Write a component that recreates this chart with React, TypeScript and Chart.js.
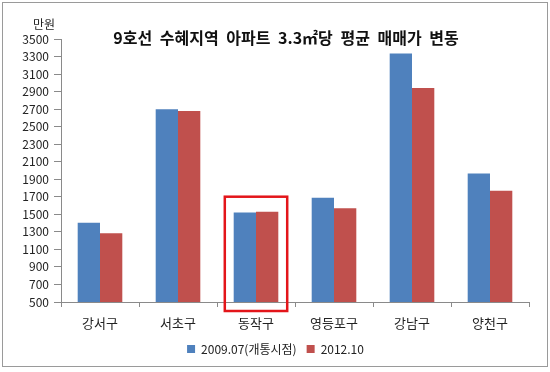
import React, { useEffect, useRef } from "react";
import { Chart, registerables } from "chart.js";

Chart.register(...registerables);

const categories = ["강서구", "서초구", "동작구", "영등포구", "강남구", "양천구"];
const series2009 = [1405, 2700, 1520, 1690, 3335, 1965];
const series2012 = [1285, 2680, 1530, 1570, 2940, 1770];
const seriesLabels = ["2009.07(개통시점)", "2012.10"];
const yMin = 500;
const yMax = 3500;
const yStep = 200;
const highlightIndex = 2;
const titleText = "9호선 수혜지역 아파트 3.3㎡당 평균 매매가 변동";
const unitText = "만원";

const FONT = '"Noto Sans CJK KR", "Noto Sans", sans-serif';

const highlightPlugin = {
  id: "highlightBox",
  afterDatasetsDraw(chart: any) {
    const x = chart.scales.x;
    const y = chart.scales.y;
    const cx = x.getPixelForValue(highlightIndex);
    const half = (x.getPixelForValue(1) - x.getPixelForValue(0)) * 0.4;
    const top = y.getPixelForValue(Math.max(series2009[highlightIndex], series2012[highlightIndex])) - 15;
    const bottom = y.getPixelForValue(yMin) + 9;
    const ctx = chart.ctx;
    ctx.save();
    ctx.strokeStyle = "#e3151a";
    ctx.lineWidth = 2.5;
    ctx.strokeRect(cx - half, top, half * 2, bottom - top);
    ctx.restore();
  },
};

export default function App() {
  const ref = useRef<HTMLCanvasElement | null>(null);
  useEffect(() => {
    if (!ref.current) return;
    const chart = new Chart(ref.current, {
      type: "bar",
      data: {
        labels: categories,
        datasets: [
          { label: seriesLabels[0], data: series2009, backgroundColor: "#4f81bd", borderWidth: 0 },
          { label: seriesLabels[1], data: series2012, backgroundColor: "#c0504d", borderWidth: 0 },
        ],
      },
      options: {
        responsive: false,
        animation: false,
        devicePixelRatio: 1,
        layout: { padding: { left: 22, right: 21, top: 39, bottom: 7 } },
        datasets: { bar: { barPercentage: 1, categoryPercentage: 0.572 } },
        plugins: {
          legend: {
            position: "bottom",
            labels: {
              boxWidth: 8,
              boxHeight: 8,
              padding: 10,
              color: "#222",
              font: { family: FONT, size: 12 },
            },
          },
          tooltip: { enabled: false },
          title: { display: false },
        },
        scales: {
          x: {
            afterFit: (s: any) => { s.height = 31; },
            grid: { display: true, drawOnChartArea: false, drawTicks: true, tickLength: 5, offset: true, color: "#8a8a8a" },
            border: { display: true, color: "#8a8a8a" },
            ticks: { color: "#222", padding: 8, font: { family: FONT, size: 13 } },
          },
          y: {
            min: yMin,
            max: yMax,
            afterFit: (s: any) => { s.width = 39; },
            grid: { display: true, drawOnChartArea: false, drawTicks: true, tickLength: 7, color: "#8a8a8a" },
            border: { display: true, color: "#8a8a8a" },
            ticks: {
              stepSize: yStep,
              color: "#222",
              padding: 5,
              font: { family: FONT, size: 12 },
              callback: (v: any) => String(v),
            },
          },
        },
      },
      plugins: [highlightPlugin],
    });
    return () => chart.destroy();
  }, []);

  return (
    <div style={{ position: "fixed", left: 0, top: 0, width: 550, height: 372, background: "#fff", fontFamily: FONT }}>
      <div style={{ position: "absolute", left: 2, top: 2, width: 546, height: 365, border: "1px solid #9a9a9a", boxSizing: "border-box" }} />
      <canvas ref={ref} width={550} height={372} style={{ position: "absolute", left: 0, top: 0 }} />
      <div style={{ position: "absolute", left: 0, top: 26, width: 572, textAlign: "center", fontSize: 16, fontWeight: "bold", color: "#111", wordSpacing: 4, lineHeight: "22px", whiteSpace: "nowrap" }}>
        {titleText}
      </div>
      <div style={{ position: "absolute", left: 33, top: 16, fontSize: 12, color: "#222", lineHeight: "16px" }}>
        {unitText}
      </div>
    </div>
  );
}
